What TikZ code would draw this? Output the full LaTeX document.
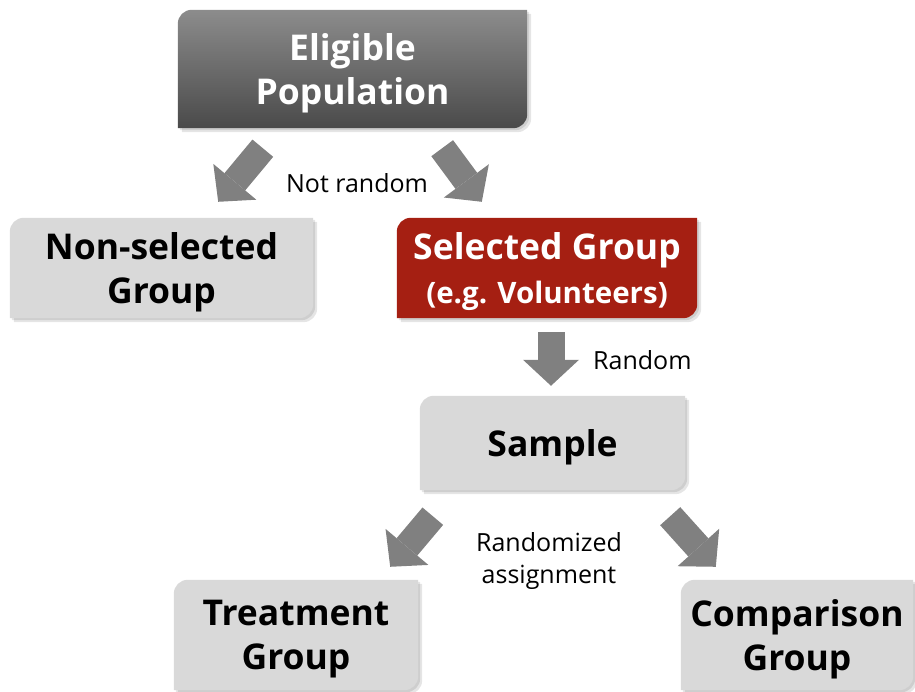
\documentclass[tikz,border=0pt]{standalone}
\usepackage{fontspec}
\setmainfont{Open Sans}
\usetikzlibrary{arrows.meta,backgrounds}
\definecolor{boxgray}{HTML}{D9D9D9}
\definecolor{boxred}{HTML}{A51F12}
\definecolor{poptop}{HTML}{8C8C8C}
\definecolor{popbottom}{HTML}{4A4A4A}
\definecolor{arrowgray}{HTML}{808080}

% outline of a box: top-left and bottom-right corners rounded,
% lifted 4pt so that the text sits a little low in it
\newcommand{\diagpath}[1]{([yshift=-10pt]#1.north west) arc[start angle=180,end angle=90,radius=14pt]
  -- ([yshift=4pt]#1.north east) -- ([yshift=18pt]#1.south east) arc[start angle=0,end angle=-90,radius=14pt]
  -- ([yshift=4pt]#1.south west) -- cycle}

\begin{document}
\begin{tikzpicture}[
  x=1pt, y=1pt,
  box/.style={
    align=center,
    inner sep=0pt,
    font=\bfseries\fontsize{35.5}{44}\selectfont
  },
  lab/.style={align=center, inner sep=0pt, font=\fontsize{25}{32}\selectfont},
  blockarrow/.style={draw=arrowgray, line width=27pt,
    -{Triangle[length=26pt,width=56pt,line width=0pt]}}
]
\useasboundingbox (0,0) rectangle (915,692);

\node[box, text=white, minimum width=349pt, minimum height=118pt] (pop) at (352.5,619)
  {Eligible\\Population};
\node[box, minimum width=303pt, minimum height=100pt] (nonsel) at (161.5,420)
  {Non-selected\\Group};
\node[box, text=white, minimum width=300pt, minimum height=100pt] (sel) at (547,420)
  {Selected Group\\{\fontsize{29.5}{44}\selectfont (e.g. Volunteers)}};
\node[box, minimum width=265pt, minimum height=94pt] (sample) at (552.5,245)
  {Sample};
\node[box, minimum width=244pt, minimum height=110pt] (treat) at (296,53)
  {Treatment\\Group};
\node[box, minimum width=232pt, minimum height=110pt] (comp) at (797,53)
  {Comparison\\Group};

\node[lab] (notrand) at (357,509) {Not random};
\node[lab, anchor=west] (rand) at (593,332) {Random};
\node[lab] (assign) at (549,131) {Randomized\\assignment};

\begin{scope}[on background layer]
  \foreach \n in {pop,nonsel,sel,sample,treat,comp}{
    \fill[black, opacity=.10, transform canvas={shift={(2pt,-2pt)}}] \diagpath{\n};
    \fill[black, opacity=.10, transform canvas={shift={(4pt,-4pt)}}] \diagpath{\n};
  }
  \shade[top color=poptop, bottom color=popbottom] \diagpath{pop};
  \fill[boxgray] \diagpath{nonsel};
  \fill[boxred] \diagpath{sel};
  \fill[boxgray] \diagpath{sample};
  \fill[boxgray] \diagpath{treat};
  \fill[boxgray] \diagpath{comp};
\end{scope}

\draw[blockarrow] ([xshift=85pt,yshift=-16pt]pop.south west) -- ([xshift=-95pt,yshift=20pt]nonsel.north east);
\draw[blockarrow] ([xshift=-85pt,yshift=-16pt]pop.south east) -- ([xshift=85pt,yshift=20pt]sel.north west);
\draw[blockarrow] ([xshift=4pt,yshift=-10pt]sel.south) -- ([xshift=-1.5pt,yshift=14pt]sample.north);
\draw[blockarrow] ([xshift=13pt,yshift=-22pt]sample.south west) -- ([xshift=-28pt,yshift=17pt]treat.north east);
\draw[blockarrow] ([xshift=-15pt,yshift=-22pt]sample.south east) -- ([xshift=35pt,yshift=17pt]comp.north west);

\end{tikzpicture}
\end{document}
